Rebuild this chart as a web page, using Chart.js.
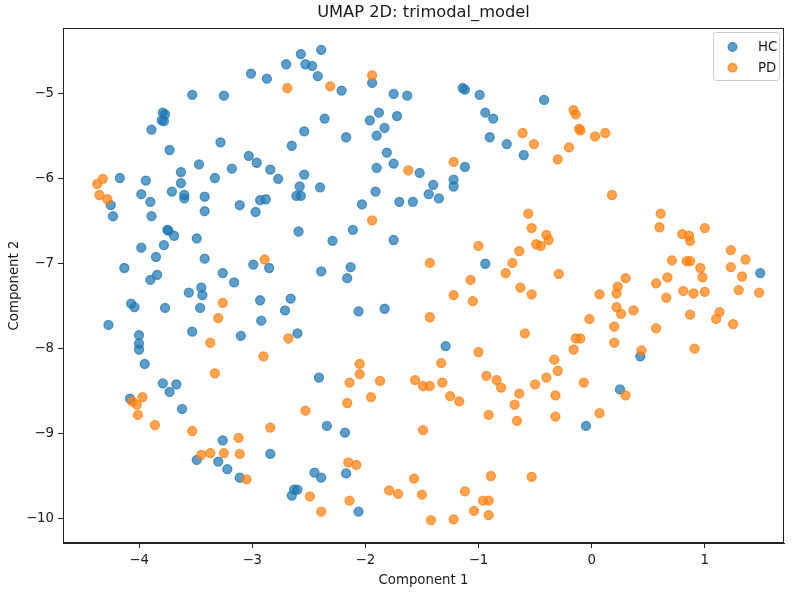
<!DOCTYPE html>
<html><head><meta charset="utf-8">
<script src="https://cdn.jsdelivr.net/npm/chart.js@4/dist/chart.umd.min.js"></script>
<style>html,body{margin:0;padding:0;background:#fff}</style>
</head><body>
<canvas id="c" width="800" height="595"></canvas>
<script>
const chartTitle = 'UMAP 2D: trimodal_model';
const seriesNames = ['HC', 'PD'];
const xAxisTitle = 'Component 1';
const yAxisTitle = 'Component 2';
const xTicks = [-4, -3, -2, -1, 0, 1];
const yTicks = [-10, -9, -8, -7, -6, -5];
const xMin = -4.672, xMax = 1.70;
const yMin = -10.289, yMax = -4.223;

const hcX = [-2.57,-2.53,-2.70,-3.01,-2.87,-3.53,-3.25,-3.79,-3.77,-3.80,-3.78,-3.89,-2.54,-3.28,-2.65,-3.73,-3.03,-2.96,-3.47,-2.84,-3.18,-3.63,-2.54,-4.17,-3.94,-3.33,-2.77,-3.63,-2.58,-3.98,-3.71,-3.60,-3.60,-3.42,-2.93,-2.88,-2.61,-2.57,-3.90,-3.11,-4.25,-4.23,-3.89,-3.42,-2.97,-3.75,-3.74,-3.69,-3.49,-2.59,-3.98,-3.78,-3.85,-3.42,-2.99,-2.85,-4.13,-3.84,-3.90,-3.26,-3.16,-3.45,-3.56,-3.44,-2.93,-2.66,-2.71,-4.07,-4.04,-3.77,-3.46,-2.92,-4.27,-4.00,-4.00,-4.00,-3.53,-3.10,-2.60,-3.95,-3.79,-3.67,-3.73,-4.08,-3.62,-3.26,-3.49,-2.84,-3.30,-3.22,-3.11,-2.63,-2.60,-2.65,-2.39,-2.47,-2.42,-2.21,-1.94,-1.75,-1.63,-1.14,-1.12,-0.99,-0.42,-2.36,-1.88,-1.96,-1.72,-1.83,-1.90,-2.17,-0.94,-0.87,-0.90,-0.75,-0.60,-1.81,-1.90,-1.75,-1.52,-1.12,-1.22,-1.22,-2.40,-1.91,-1.40,-1.44,-1.35,-2.03,-1.70,-1.58,-2.11,-2.29,-1.75,-0.94,-2.39,-2.13,-2.16,-2.06,-1.83,-1.29,-2.41,-2.34,-2.18,-2.45,-2.39,-2.17,-2.06,1.49,0.43,0.25,-0.05];
const hcY = [-4.53,-4.65,-4.65,-4.76,-4.82,-5.01,-5.02,-5.22,-5.24,-5.31,-5.32,-5.42,-5.44,-5.57,-5.61,-5.66,-5.73,-5.81,-5.83,-5.89,-5.88,-5.92,-5.95,-5.99,-6.02,-5.99,-6.00,-6.05,-6.09,-6.18,-6.15,-6.19,-6.23,-6.21,-6.25,-6.24,-6.20,-6.20,-6.27,-6.31,-6.31,-6.44,-6.44,-6.38,-6.39,-6.60,-6.61,-6.67,-6.70,-6.62,-6.81,-6.78,-6.92,-6.94,-7.01,-7.05,-7.05,-7.13,-7.19,-7.11,-7.22,-7.28,-7.34,-7.37,-7.43,-7.41,-7.55,-7.47,-7.51,-7.52,-7.52,-7.67,-7.72,-7.84,-7.94,-8.01,-7.80,-7.85,-7.82,-8.18,-8.41,-8.42,-8.51,-8.59,-8.71,-9.08,-9.31,-9.24,-9.33,-9.42,-9.52,-9.66,-9.66,-9.73,-4.48,-4.67,-4.79,-4.96,-4.87,-5.00,-5.02,-4.93,-4.95,-5.01,-5.07,-5.29,-5.22,-5.31,-5.26,-5.40,-5.49,-5.51,-5.22,-5.29,-5.51,-5.59,-5.72,-5.69,-5.87,-5.82,-5.93,-5.86,-6.01,-6.09,-6.10,-6.15,-6.07,-6.18,-6.23,-6.30,-6.27,-6.27,-6.60,-6.73,-6.72,-7.00,-7.09,-7.04,-7.17,-7.56,-7.53,-7.97,-8.34,-8.91,-8.99,-9.46,-9.52,-9.47,-9.92,-7.11,-8.09,-8.48,-8.91];

const pdX = [-2.69,-4.32,-4.37,-4.35,-4.28,-2.89,-3.26,-3.30,-2.68,-3.37,-2.90,-3.33,-4.06,-3.97,-4.02,-4.01,-3.86,-3.53,-2.84,-2.53,-3.12,-3.45,-3.37,-3.25,-3.11,-3.05,-2.49,-2.31,-1.94,-0.61,-0.51,-1.62,-1.22,-0.16,-0.14,-0.11,-0.10,0.03,0.12,-0.20,-0.30,0.18,-0.56,-1.94,-0.53,-0.49,-0.45,-0.40,-0.38,-1.00,-0.64,-1.43,-0.70,-0.76,-1.07,-1.22,-1.05,-0.63,-0.53,-1.43,-0.59,-1.00,-1.33,-2.05,-2.05,-2.14,-1.87,-1.56,-1.49,-1.43,-1.32,-0.93,-0.84,-0.80,-0.50,-0.40,-2.16,-1.95,-1.25,-1.17,-0.64,-0.68,-0.91,-0.66,-1.49,-2.15,-2.08,-1.57,-0.89,-0.53,-1.79,-1.71,-1.50,-1.12,-0.96,-0.91,-2.14,-2.39,-1.04,-0.91,-1.42,-1.22,0.61,0.60,1.00,0.80,0.86,0.87,1.23,1.36,1.23,1.33,1.48,1.30,0.71,0.84,0.87,0.96,0.98,0.67,0.57,0.81,0.90,1.00,0.66,-0.29,0.30,0.23,0.22,0.07,0.22,0.26,0.37,0.87,1.13,1.10,1.25,-0.02,0.20,0.57,-0.14,-0.10,-0.16,0.20,0.44,0.91,-0.33,-0.30,-0.07,0.30,-0.32,-0.32,0.07];
const pdY = [-4.93,-6.00,-6.06,-6.19,-6.24,-6.95,-7.46,-7.64,-7.88,-7.93,-8.09,-8.29,-8.62,-8.57,-8.66,-8.78,-8.90,-8.97,-8.93,-8.73,-9.05,-9.25,-9.23,-9.23,-9.24,-9.54,-9.74,-4.91,-4.78,-5.46,-5.59,-5.90,-5.80,-5.19,-5.24,-5.41,-5.43,-5.50,-5.46,-5.63,-5.77,-6.19,-6.41,-6.49,-6.58,-6.77,-6.79,-6.66,-6.72,-6.79,-6.85,-6.99,-6.99,-7.11,-7.19,-7.37,-7.44,-7.28,-7.36,-7.63,-7.82,-8.04,-8.17,-8.18,-8.30,-8.40,-8.38,-8.37,-8.44,-8.44,-8.40,-8.32,-8.37,-8.46,-8.42,-8.34,-8.64,-8.57,-8.56,-8.62,-8.53,-8.66,-8.78,-8.85,-8.96,-9.34,-9.37,-9.53,-9.50,-9.51,-9.67,-9.71,-9.72,-9.68,-9.79,-9.79,-9.79,-9.92,-9.91,-9.96,-10.02,-10.01,-6.41,-6.57,-6.58,-6.65,-6.67,-6.73,-6.84,-6.95,-7.04,-7.15,-7.34,-7.31,-6.96,-6.97,-6.97,-7.05,-7.16,-7.16,-7.23,-7.32,-7.35,-7.33,-7.40,-7.12,-7.17,-7.27,-7.35,-7.36,-7.51,-7.59,-7.55,-7.60,-7.57,-7.65,-7.71,-7.65,-7.74,-7.76,-7.88,-7.88,-8.01,-7.93,-8.02,-8.00,-8.13,-8.26,-8.40,-8.55,-8.55,-8.80,-8.76];

const FONT = "'DejaVu Sans', 'Liberation Sans', sans-serif";
const TXT = '#1a1a1a';
const blue = 'rgba(31,119,180,0.72)';
const orange = 'rgba(255,127,14,0.72)';
const fmt = v => (v < 0 ? '\u2212' : '') + Math.abs(v);
const toPts = (xs, ys) => xs.map((x, i) => ({x: x, y: ys[i]}));

const framePlugin = {
  id: 'frameAndLegend',
  afterDraw(chart) {
    const {ctx, chartArea: a} = chart;
    ctx.save();
    ctx.strokeStyle = '#222';
    ctx.lineWidth = 1;
    ctx.strokeRect(a.left + 0.5, a.top + 0.5, a.right - a.left - 1, a.bottom - a.top - 1);
    ctx.fillStyle = TXT;
    ctx.font = "16.3px " + FONT;
    ctx.textAlign = 'center';
    ctx.textBaseline = 'middle';
    ctx.fillText(chartTitle, (a.left + a.right) / 2, 13);
    const lx = a.right - 71, ly = a.top + 4, lw = 66, lh = 48;
    ctx.beginPath();
    if (ctx.roundRect) ctx.roundRect(lx + 0.5, ly + 0.5, lw, lh, 3); else ctx.rect(lx + 0.5, ly + 0.5, lw, lh);
    ctx.fillStyle = 'rgba(255,255,255,0.85)';
    ctx.fill();
    ctx.strokeStyle = '#cccccc';
    ctx.stroke();
    const cols = [blue, orange];
    ctx.font = "13.3px " + FONT;
    ctx.textAlign = 'left';
    seriesNames.forEach((n, i) => {
      const cy = ly + 15 + i * 20.7;
      ctx.beginPath();
      ctx.arc(lx + 19.5, cy, 4.4, 0, Math.PI * 2);
      ctx.fillStyle = cols[i];
      ctx.fill();
      ctx.lineWidth = 1.3;
      ctx.strokeStyle = cols[i];
      ctx.stroke();
      ctx.fillStyle = TXT;
      ctx.fillText(n, lx + 45, cy + 1);
    });
    ctx.restore();
  }
};

new Chart(document.getElementById('c'), {
  type: 'scatter',
  data: {
    datasets: [
      {label: seriesNames[0], data: toPts(hcX, hcY), backgroundColor: blue, borderColor: blue, borderWidth: 1.3, pointRadius: 4.5, order: 2},
      {label: seriesNames[1], data: toPts(pdX, pdY), backgroundColor: orange, borderColor: orange, borderWidth: 1.3, pointRadius: 4.5, order: 1}
    ]
  },
  options: {
    responsive: false,
    animation: false,
    devicePixelRatio: 1,
    layout: {padding: {left: 0, right: 16, top: 28, bottom: 0}},
    plugins: {legend: {display: false}, tooltip: {enabled: false}, title: {display: false}},
    scales: {
      x: {
        type: 'linear', position: 'bottom', min: xMin, max: xMax,
        afterBuildTicks: s => { s.ticks = xTicks.map(v => ({value: v})); },
        afterFit: s => { s.height = 52; },
        grid: {display: true, drawOnChartArea: false, drawTicks: true, tickLength: 5, tickWidth: 1, tickColor: '#222'},
        border: {display: true, color: '#222', width: 1},
        ticks: {color: TXT, font: {family: FONT, size: 13.3}, padding: 5, maxRotation: 0, autoSkip: false, callback: fmt},
        title: {display: true, text: xAxisTitle, color: TXT, font: {family: FONT, size: 13.3}, padding: {top: 0, bottom: 6}}
      },
      y: {
        type: 'linear', position: 'left', min: yMin, max: yMax,
        afterBuildTicks: s => { s.ticks = yTicks.map(v => ({value: v})); },
        afterFit: s => { s.width = 63; },
        grid: {display: true, drawOnChartArea: false, drawTicks: true, tickLength: 5, tickWidth: 1, tickColor: '#222'},
        border: {display: true, color: '#222', width: 1},
        ticks: {color: TXT, font: {family: FONT, size: 13.3}, padding: 4, autoSkip: false, callback: fmt},
        title: {display: true, text: yAxisTitle, color: TXT, font: {family: FONT, size: 13.3}, padding: {top: 7, bottom: 0}}
      }
    }
  },
  plugins: [framePlugin]
});
</script>
</body></html>
